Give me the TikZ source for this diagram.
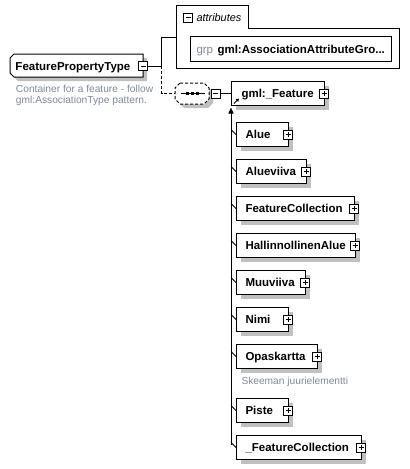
\documentclass[tikz,border=0pt]{standalone}
\usepackage{fontspec}
\setmainfont{Liberation Sans}
\usetikzlibrary{shadows,arrows.meta}
\definecolor{shdgray}{RGB}{192,192,192}
\definecolor{descgray}{RGB}{128,136,150}
\newcommand\bigbold{\fontsize{11.5}{13}\selectfont\bfseries}
\newcommand\elemx[5]{%
  \pgfmathsetlengthmacro\elw{#4-#2-18}%
  \node[elembox, text width=\elw] (#1) at (#2,#3) {#5};
  \node[plusbtn] (#1btn) at ([xshift=-1pt]#1.east) {};
  \draw[conn] (#1.west) -- ++(-5,-5);
}
\begin{document}
\begin{tikzpicture}[x=1pt,y=-1pt,line width=1pt,
  shd/.style={general shadow={shadow xshift=4pt,shadow yshift=-4pt,fill=shdgray,draw=none}},
  elembox/.style={draw, fill=white, shd, anchor=north west, minimum height=24pt,
     inner xsep=9pt, inner ysep=0pt, text height=8.3pt, text depth=0pt, font=\bigbold, align=left},
  btn/.style={draw, fill=white, minimum size=9pt, inner sep=0pt},
  minusbtn/.style={btn, path picture={\draw[line width=1pt] ([xshift=2pt]path picture bounding box.west) -- ([xshift=-2pt]path picture bounding box.east);}},
  plusbtn/.style={btn, path picture={\draw[line width=1pt] ([xshift=2pt]path picture bounding box.west) -- ([xshift=-2pt]path picture bounding box.east);
     \draw[line width=1pt] ([yshift=-2pt]path picture bounding box.north) -- ([yshift=2pt]path picture bounding box.south);}},
  conn/.style={draw, line width=1pt},
  desctext/.style={text=descgray, font=\fontsize{10.2}{11}\selectfont, inner sep=0pt, align=left}
]
\useasboundingbox (0,0) rectangle (410,469);

% attributes container
\node[draw=none, minimum width=223pt, minimum height=63pt, anchor=north west, inner sep=0pt] (attr) at (176,5) {};
\draw (176,5) -- (248,5) -- (248,28) -- (399,28) -- (399,68) -- (176,68) -- cycle;
\node[minusbtn] (attrbtn) at (188,17.5) {};
\node[anchor=base west, inner sep=0pt, font=\fontsize{10.9}{12}\selectfont\itshape] (attrlbl) at (196,21) {attributes};
\node[draw, anchor=north west, minimum width=201pt, minimum height=25pt, inner sep=0pt] (grpbox) at (190,36) {};
\node[anchor=base west, inner sep=0pt, text=descgray, font=\fontsize{11.5}{13}\selectfont] (grplbl) at (196,53.5) {grp};
\node[anchor=base west, inner sep=0pt, font=\bigbold] (grpname) at (217,53.5) {gml:AssociationAttributeGro...};

% FeaturePropertyType
\draw[shd, fill=white] (14,54) -- (143,54) -- (143,77) -- (14,77) -- (10,73) -- (10,58) -- cycle;
\node[anchor=north west, minimum width=133pt, minimum height=23pt, inner xsep=5pt, inner ysep=0pt,
      text width=123pt, text height=8.3pt, text depth=0pt, font=\bigbold, align=left] (fpt) at (10,54) {FeaturePropertyType};
\node[minusbtn] (fptbtn) at (143,66) {};
\node[desctext, anchor=north west] (fptdesc) at (15.5,84.5) {Container for a feature - follow\\gml:AssociationType pattern.};

% sequence compositor
\draw[shd, fill=white, dash pattern=on 3pt off 2pt] (180,83) -- (204,83) -- (209,88) -- (209,99) -- (204,104) -- (180,104) -- (175,99) -- (175,88) -- cycle;
\node[draw=none, minimum width=34pt, minimum height=21pt, inner sep=0pt] (seq) at (192,93.5) {};
\draw (180.5,93.5) -- (205,93.5);
\foreach \dx in {187,192,197} \fill (\dx-1.5,92) rectangle (\dx+1.5,95);
\node[minusbtn] (seqbtn) at (215.5,93.5) {};

% connectors from FeaturePropertyType
\coordinate (junc) at (161.5,66);
\draw[conn] (fptbtn.east) -- (junc) |- (attr.west);
\draw[conn, dash pattern=on 3pt off 2pt] (junc) |- (seq.west);

% gml:_Feature
\pgfmathsetlengthmacro\elw{323-231-19}
\node[elembox, text width=\elw, inner xsep=10pt] (feat) at (231,81) {gml:\_Feature};
\node[plusbtn] (featbtn) at ([xshift=-1pt]feat.east) {};
\draw[conn] (seqbtn.east) -- (feat.west |- seqbtn.east);
\draw[-{Triangle[length=3pt,width=3.5pt]}, line width=0.9pt] ([xshift=3pt,yshift=2.5pt]feat.south west) -- ++(5,-5);

% substitution trunk
\coordinate (trunktop) at (231,107.5);
\coordinate (trunkbot) at (231,445);
\draw[-{Triangle[length=6pt,width=5pt]}] (trunkbot) -- (trunktop);

% substitution members
\elemx{alue}{236}{122}{288}{Alue}
\elemx{alueviiva}{236}{159}{306}{Alueviiva}
\elemx{featcoll}{236}{196}{354}{FeatureCollection}
\elemx{hallalue}{236}{233}{355}{HallinnollinenAlue}
\elemx{muuviiva}{236}{270}{305}{Muuviiva}
\elemx{nimi}{236}{307}{288}{Nimi}
\elemx{opaskartta}{236}{344}{317}{Opaskartta}
\node[desctext, anchor=north west] (opasdesc) at (241,376.5) {Skeeman juurielementti};
\elemx{piste}{236}{398}{288}{Piste}
\elemx{ufeatcoll}{236}{435}{361}{\_FeatureCollection}
\end{tikzpicture}
\end{document}
